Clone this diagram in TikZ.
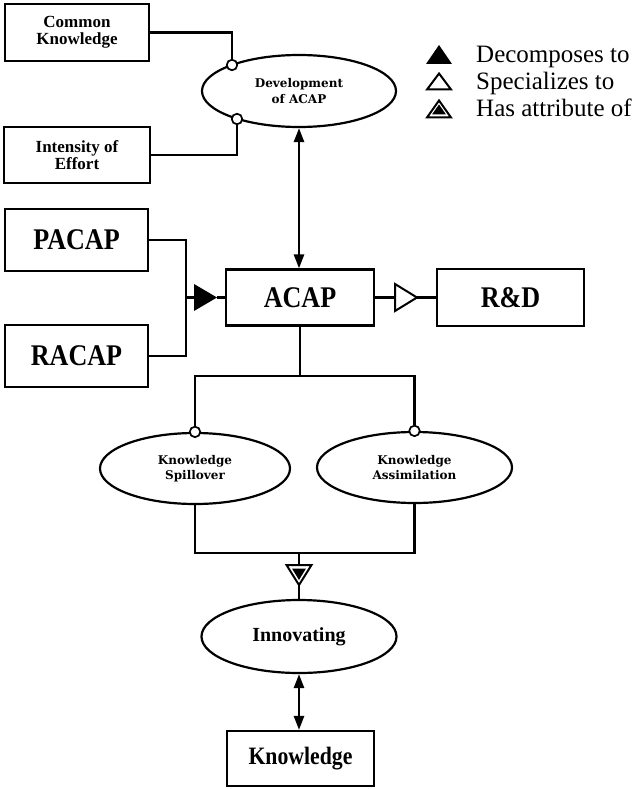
\documentclass[tikz,border=0pt]{standalone}
\usepackage{fontspec}
\setmainfont{Liberation Serif}
\newfontfamily\labelfont[FakeStretch=0.87]{Liberation Serif}
\newfontfamily\ovalfont{DejaVu Serif}
\usetikzlibrary{arrows.meta,calc,shapes.geometric}

\tikzset{
  line/.style={line width=2.2pt},
  box/.style={draw, line width=2.2pt, rectangle, inner sep=0pt, align=center},
  oval/.style={draw, line width=2.2pt, ellipse, inner sep=0pt, align=center},
  bigtext/.style={font=\labelfont\bfseries\fontsize{30}{30}\selectfont},
  knowtext/.style={font=\labelfont\bfseries\fontsize{25}{25}\selectfont},
  midtext/.style={font=\bfseries\fontsize{17}{17}\selectfont},
  smalltext/.style={font=\ovalfont\bfseries\fontsize{12}{15.5}\selectfont},
  legendtext/.style={font=\fontsize{25}{25}\selectfont, anchor=base west, inner sep=0pt},
  dot/.style={circle, draw, fill=white, line width=1.7pt, inner sep=0pt, minimum size=10.5pt},
  dbl/.style={line width=2.6pt, {Triangle[length=14pt,width=10pt]}-{Triangle[length=14pt,width=10pt]}},
  % filled triangle: decomposes to
  decomp/.pic={
    \fill (0,-13.5) -- (23,0) -- (0,13.5) -- cycle;
    \coordinate (-base) at (0,0);
    \coordinate (-tip) at (23,0);
  },
  % open triangle: specializes to
  spec/.pic={
    \draw[line width=2pt, fill=white, line join=miter] (0,-13.5) -- (22,0) -- (0,13.5) -- cycle;
    \coordinate (-base) at (0,0);
    \coordinate (-tip) at (22,0);
  },
  % double triangle: has attribute of
  attrib/.pic={
    \draw[line width=2pt, fill=white] (-12.5,0) -- (12.5,0) -- (0,20) -- cycle;
    \fill (-7,3.5) -- (7,3.5) -- (0,15) -- cycle;
    \coordinate (-top) at (0,0);
    \coordinate (-tip) at (0,20);
  }
}

\begin{document}
\begin{tikzpicture}[x=1pt,y=-1pt]
\useasboundingbox (0,0) rectangle (639,789);

% legend
\fill (426,64) -- (439,45) -- (452,64) -- cycle;
\draw[line width=2pt] (427,89.5) -- (439,73.5) -- (451,89.5) -- cycle;
\draw[line width=2pt] (427,117.5) -- (439,100.5) -- (451,117.5) -- cycle;
\fill (432,114.5) -- (439,104.5) -- (446,114.5) -- cycle;
\node[legendtext] (lg1) at (476,63) {Decomposes to};
\node[legendtext] (lg2) at (476,90) {Specializes to};
\node[legendtext] (lg3) at (476,117) {Has attribute of};

% boxes
\node[box, midtext, minimum width=144pt, minimum height=57pt] (common) at (77,32.5) {Common\\Knowledge};
\node[box, midtext, minimum width=146pt, minimum height=56pt] (effort) at (77,155) {Intensity of\\Effort};
\node[box, bigtext, minimum width=143pt, minimum height=62pt] (pacap) at (76.5,240) {PACAP};
\node[box, bigtext, minimum width=143pt, minimum height=62pt] (racap) at (76.5,356) {RACAP};
\node[box, bigtext, minimum width=148pt, minimum height=56pt] (acap) at (300,297.5) {ACAP};
\node[box, bigtext, minimum width=147pt, minimum height=57pt] (rd) at (510.5,297.5) {R\&D};
\node[box, knowtext, minimum width=147pt, minimum height=55pt] (know) at (300.5,758.5) {Knowledge};

% ellipses
\node[oval, smalltext, minimum width=194pt, minimum height=72pt] (dev) at (299,91) {Development\\of ACAP};
\node[oval, smalltext, minimum width=190pt, minimum height=71pt] (spill) at (195,468.5) {Knowledge\\Spillover};
\node[oval, smalltext, minimum width=195pt, minimum height=71pt] (assim) at (414.5,467.5) {Knowledge\\Assimilation};
\node[oval, font=\bfseries\fontsize{20}{20}\selectfont, minimum width=195pt, minimum height=73pt] (innov) at (299,636.5) {Innovating};

% attribute connectors into Development of ACAP
\node[dot] (d1) at (232,65) {};
\node[dot] (d2) at (237,119) {};
\draw[line] (common.east) -| (d1.north);
\draw[line] (effort.east) -| (d2.south);

% Development of ACAP <-> ACAP
\draw[dbl] (dev.south) -- (dev.south |- acap.north);

% PACAP and RACAP decompose ACAP
\coordinate (jn) at (186,297.5);
\pic (dc) at (194,297.5) {decomp};
\draw[line] (pacap.east) -| (jn) |- (racap.east);
\draw[line] (jn) -- (dc-base);
\draw[line] (dc-tip) -- (acap.west);

% ACAP specializes to R&D
\pic (sp) at (395,297.5) {spec};
\draw[line] (acap.east) -- (sp-base);
\draw[line] (sp-tip) -- (rd.west);

% ACAP to its two activities
\draw[line] (acap.south) -- ++(0,49.5) coordinate (fork);
\node[dot] (d3) at (spill.north) {};
\node[dot] (d4) at (assim.north) {};
\draw[line] (d3.north) |- (fork) -| (d4.north);

% activities merge into Innovating
\coordinate (merge) at (299,553);
\draw[line] (spill.south) |- (merge) -| (assim.south);
\pic (at) at (299,565) {attrib};
\draw[line] (merge) -- (at-top);
\draw[line] (at-tip) -- (innov.north);

% Innovating <-> Knowledge
\draw[dbl] (innov.south) -- (innov.south |- know.north);
\end{tikzpicture}
\end{document}
